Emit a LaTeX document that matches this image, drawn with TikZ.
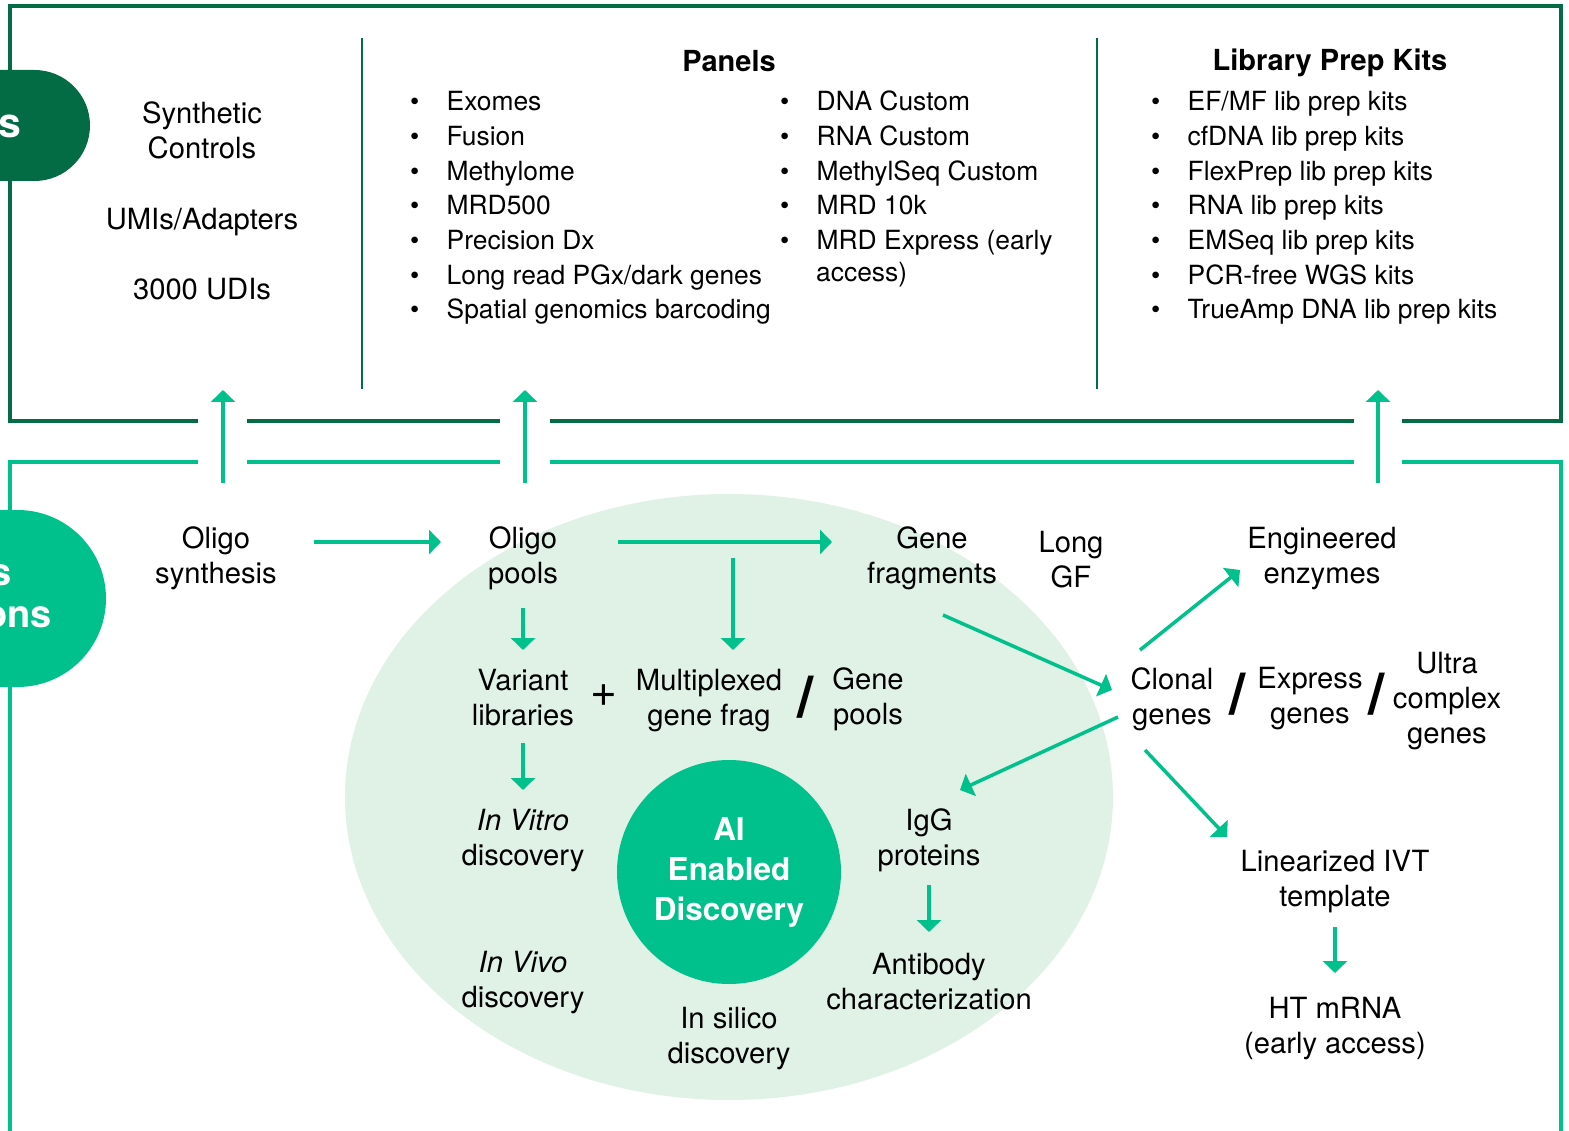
\documentclass[tikz,border=0pt]{standalone}
\usepackage{fontspec}
\setmainfont{TeX Gyre Heros}
\usepackage{tikz}
\usetikzlibrary{arrows.meta,positioning}
\definecolor{darkgreen}{HTML}{046C44}
\definecolor{brightgreen}{HTML}{00C08B}
\definecolor{palegreen}{HTML}{E0F1E6}
\newcommand{\itembul}{\makebox[36.5pt][l]{\textbullet}}

\begin{document}
\begin{tikzpicture}[x=1pt,y=-1pt]
	\tikzset{
		txt/.style={align=center, inner sep=2pt, font=\fontsize{29.2}{35}\selectfont},
		itm/.style={anchor=west, inner sep=0pt, text height=19pt, text depth=5.5pt,
			font=\fontsize{26.4}{34.7}\selectfont},
		head/.style={inner sep=0pt, font=\fontsize{29}{35}\selectfont\bfseries},
		slash/.style={inner sep=0pt, font=\fontsize{58}{58}\selectfont\bfseries},
		plussign/.style={inner sep=0pt, font=\fontsize{46}{46}\selectfont},
		tag/.style={anchor=east, inner sep=0pt, text=white},
		arr/.style={brightgreen, line width=3.5pt, -{Triangle[width=24pt,length=12pt]}},
		dark line/.style={darkgreen, line width=4pt},
		light line/.style={brightgreen, line width=4pt},
		divider/.style={darkgreen, line width=2.5pt}
	}
	\useasboundingbox (0,0) rectangle (1569,1131);
	
	\fill[palegreen] (729,797) ellipse [x radius=384pt, y radius=303pt];
	
	% frames
	\draw[dark line] (198,421) -- (10,421) -- (10,6) -- (1561,6) -- (1561,421) -- (1402,421)
		(1354,421) -- (550,421) (500,421) -- (247,421);
	\draw[light line] (198,462) -- (10,462) -- (10,1140)
		(247,462) -- (500,462) (550,462) -- (1354,462) (1402,462) -- (1561,462) -- (1561,1140);
	\draw[divider] (362,38) -- (362,389);
	\draw[divider] (1097,38) -- (1097,389);
	
	\fill[darkgreen, rounded corners=55.5pt] (-200,70) rectangle (90,181);
	\fill[brightgreen, rounded corners=88.5pt] (-300,510) rectangle (106,687);
	\node[tag, font=\fontsize{41}{41}\selectfont\bfseries] (tagtop) at (21,126) {s};
	\node[tag, font=\fontsize{38}{43}\selectfont\bfseries] (tagmid) at (12,575) {s};
	\node[tag, font=\fontsize{38}{43}\selectfont\bfseries] (tagbottom) at (52,617) {ons};
	
	% top row
	\node[txt] (synctrl) at (202,130) {Synthetic\\Controls};
	\node[txt] (umis) at (202,222) {UMIs/Adapters};
	\node[txt] (udis) at (202,289) {3000 UDIs};
	
	\node[head] (panels) at (729,61) {Panels};
	\foreach \t [count=\i] in {Exomes, Fusion, Methylome, MRD500, Precision Dx,
		Long read PGx/dark genes, Spatial genomics barcoding}
		\node[itm] (pan\i) at (410,{104+34.7*(\i-1)}) {\itembul\t};
	\foreach \t [count=\i] in {DNA Custom, RNA Custom, MethylSeq Custom, MRD 10k,
		MRD Express (early}
		\node[itm] (cus\i) at (780,{104+34.7*(\i-1)}) {\itembul\t};
	\node[itm] (cus6) at (816,275) {access)};
	
	\node[head] (kits) at (1330,63) {Library Prep Kits};
	\foreach \t [count=\i] in {EF/MF lib prep kits, cfDNA lib prep kits, FlexPrep lib prep kits,
		RNA lib prep kits, EMSeq lib prep kits, PCR-free WGS kits, TrueAmp DNA lib prep kits}
		\node[itm] (kit\i) at (1151,{104+34.7*(\i-1)}) {\itembul\t};
	
	% bottom row
	\node[txt] (synth) at (216,558) {Oligo\\synthesis};
	\node[txt] (pools) at (523,558) {Oligo\\pools};
	\node[txt] (genefrag) at (932,558) {Gene\\fragments};
	\node[txt] (longgf) at (1071,560) {Long\\GF};
	\node[txt] (enzymes) at (1322,559) {Engineered\\enzymes};
	
	\node[txt] (variant) at (523,698) {Variant\\libraries};
	\node[plussign] (plus) at (604,696) {+};
	\node[txt] (multi) at (709,701) {Multiplexed\\gene frag};
	\node[slash] (slashA) at (806,697) {/};
	\node[txt] (genepools) at (868,699) {Gene\\pools};
	\node[txt] (clonal) at (1172,699) {Clonal\\genes};
	\node[slash] (slashB) at (1238,694) {/};
	\node[txt] (express) at (1310,699) {Express\\genes};
	\node[slash] (slashC) at (1377,694) {/};
	\node[txt] (ultra) at (1447,701) {Ultra\\complex\\genes};
	
	\node[circle, fill=brightgreen, minimum size=224pt, inner sep=0pt, align=center,
		text=white, font=\fontsize{31.5}{40}\selectfont\bfseries] (ai) at (729,872) {AI\\Enabled\\Discovery};
	\node[txt] (invitro) at (523,841) {\textit{In Vitro}\\discovery};
	\node[txt] (invivo) at (523,983) {\textit{In Vivo}\\discovery};
	\node[txt] (igg) at (929,840) {IgG\\proteins};
	\node[txt] (antibody) at (929,982) {Antibody\\characterization};
	\node[txt] (insilico) at (729,1039) {In silico\\discovery};
	\node[txt] (ivt) at (1335,882) {Linearized IVT\\template};
	\node[txt] (mrna) at (1335,1029) {HT mRNA\\(early access)};
	
	% arrows
	\coordinate (ctrlin) at (223,390);
	\coordinate (panelin) at (525,390);
	\coordinate (kitin) at (1378,390);
	\draw[arr] ([shift={(7,-75)}]synth.center) -- (ctrlin);
	\draw[arr] ([shift={(2,-75)}]pools.center) -- (panelin);
	\draw[arr] ([shift={(56,-76)}]enzymes.center) -- (kitin);
	
	\draw[arr] ([shift={(98,-16)}]synth.center) -- ([shift={(-82,-16)}]pools.center);
	\draw[arr] ([shift={(95,-16)}]pools.center) -- ([shift={(-100,-16)}]genefrag.center);
	\draw[arr] ([shift={(210,0)}]pools.center) -- ([shift={(24,-51)}]multi.center);
	\draw[arr] ([shift={(0,50)}]pools.center) -- ([shift={(0,-48)}]variant.center);
	\draw[arr] ([shift={(0,45)}]variant.center) -- ([shift={(0,-51)}]invitro.center);
	\draw[arr] ([shift={(11,57)}]genefrag.center) -- ([shift={(-60,-9)}]clonal.center);
	\draw[arr] ([shift={(-32,-49)}]clonal.center) -- ([shift={(-82,11)}]enzymes.center);
	\draw[arr] ([shift={(-54,18)}]clonal.center) -- ([shift={(31,-50)}]igg.center);
	\draw[arr] ([shift={(-27,51)}]clonal.center) -- ([shift={(-108,-45)}]ivt.center);
	\draw[arr] ([shift={(0,45)}]igg.center) -- ([shift={(0,-50)}]antibody.center);
	\draw[arr] ([shift={(0,45)}]ivt.center) -- ([shift={(0,-56)}]mrna.center);
\end{tikzpicture}
\end{document}
